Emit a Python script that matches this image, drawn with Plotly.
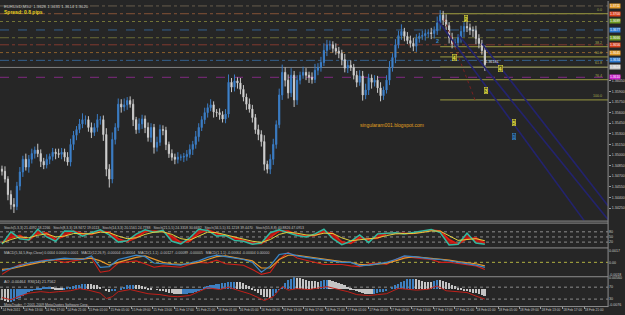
import plotly.graph_objects as go

W, H = 625, 315
BG = '#262626'
FONT = 'Liberation Sans'

# ---------------- price data (EURUSD M30), pips above BASE ----------------
BASE = 1.3400
PIP = 0.0001
open_first = 80
close_pips = [77,66,44,30,27,56,76,94,83,94, 102,107,102,91,86,94,98,104,102,101,
              104,97,90,115,128,136,144,150,150,139, 132,139,150,150,129,80,66,122,139,172,
              168,171,177,172,150,136,144,151,139,125, 139,111,118,136,135,115,102,97,94,97,
              97,98,101,108,115,126,139,150,160,167, 171,161,160,157,151,158,203,196,205,202,
              193,182,172,165,153,136,129,119,87,80, 94,115,143,185,217,206,188,213,178,206,
              213,217,213,210,207,220,224,231,248,256, 256,251,247,244,235,223,227,224,213,203,
              212,185,192,209,203,206,195,184,192,206, 224,238,256,269,275,268,262,258,254,265,
              268,269,272,273,272,276,287,298,291,283, 266,258,259,266,275,282,280,277,276,265,
              258,248,228]
wick_up = [5,7,4,6,9,6,7,5,8,6, 7,5,9,6,5,7,4,6,5,7, 6,5,7,8,6,5,7,9,6,5, 7,6,8,5,6,9,7,10,6,8,
           7,9,5,6,7,4,8,6,5,7, 6,5,8,7,6,5,4,6,5,7, 4,5,6,7,5,8,6,5,7,6, 8,5,4,6,5,7,11,6,9,5,
           7,6,5,8,6,5,7,6,9,5, 7,8,6,9,11,7,8,10,6,7, 5,8,6,5,7,9,6,8,10,7, 6,5,7,6,5,8,6,7,5,6,
           8,7,9,6,5,7,6,8,5,7, 9,6,8,7,10,5,6,7,8,6, 5,7,6,5,7,6,9,7,6,8, 5,7,6,5,8,6,7,6,5,7,
           6,5,7]
wick_dn = [6,5,8,7,9,5,6,7,5,8, 6,7,5,8,6,5,7,6,8,5, 7,6,5,6,8,7,5,6,7,6, 8,5,6,7,9,10,12,6,7,5,
           8,6,7,5,9,6,5,7,8,6, 7,9,6,5,7,8,6,5,7,6, 5,7,6,5,8,6,7,5,6,7, 5,8,6,7,5,6,5,7,6,8,
           7,6,8,5,7,6,8,7,9,6, 7,8,6,5,7,9,8,6,10,7, 6,5,7,8,6,5,7,6,5,8, 7,6,5,7,8,6,7,5,6,7,
           5,8,6,7,9,6,7,8,6,5, 7,6,8,5,6,7,5,6,7,8, 6,5,7,6,8,7,6,9,7,6, 8,7,6,5,7,8,6,7,9,8,
           7,6,9]
assert len(close_pips) == len(wick_up) == len(wick_dn)

price_ticks = [1.3605, 1.3590, 1.3575, 1.3560, 1.3545, 1.3530, 1.3515, 1.3500, 1.3485,
               1.3470, 1.3455, 1.3440, 1.3425]

# pivot / level lines (price)
level_prices = [1.3711, 1.3700, 1.3689, 1.3677, 1.3666, 1.3656, 1.3645, 1.3634, 1.3624, 1.3610]
level_colors = ['#6e6250', '#8e5838', '#7e7e3a', '#36689a', '#727238', '#8a3c30', '#96662e', '#36689a', '#8c8c8c', '#8a2a8a']
level_dash = ['dashdot', 'dashdot', 'dot', 'dash', 'dashdot', 'dashdot', 'dot', 'dashdot', 'solid', 'dash']
level_box = ['#e09a2a', '#d8401c', '#6e9a22', '#2a78d0', '#6e9a22', '#d8401c', '#e09a2a', '#2a78d0', '#c8c8c8', '#cc22cc']

# fibonacci retracement
fib_high = 1.3700
fib_low = 1.3578
fib_start_bar = 147
fib_ratios = [0.0, 0.382, 0.5, 0.618, 0.764, 1.0]
fib_text = ['0.0', '38.2', '50.0', '61.8', '76.4', '100.0']

# channel lines (bar, price)
ch_bars = [[146.3, 195.3], [153.3, 203.3], [161.0, 203.3]]
ch_prices = [[1.3690, 1.34072], [1.3669, 1.34086], [1.36578, 1.34282]]
red_diag_bars = [148.3, 158.7]
red_diag_prices = [1.36928, 1.3578]

# ---------------- stochastic panel ----------------
stoch_bars = list(range(0, 163, 3))
stoch_main = [8,80,40,33,95,50,25,85,83,55, 75,92,62,20,28,67,92,78,88,25, 10,45,95,88,55,58,30,25,8,15,
              75,92,75,58,50,68,95,40,5,25, 62,17,68,70,75,67,75,86,94,75, 3,8,72,15,8]
stoch_sig = [20,45,60,30,70,75,35,55,85,70, 65,85,78,40,22,45,80,85,82,55, 18,25,70,92,72,55,45,28,15,10,
             45,85,85,65,55,58,82,70,22,12, 45,38,42,70,72,72,70,80,90,85, 35,8,40,45,15]
stoch_slow = [15,35,50,45,60,68,50,55,70,70, 68,78,75,55,40,45,65,78,80,65, 40,32,55,78,75,62,50,38,25,18,
              35,65,78,72,62,60,72,70,45,28, 35,38,45,58,68,70,70,76,85,84, 58,30,35,40,28]

# ---------------- MACD panel (values x1e-4) ----------------
macd_bars = list(range(0, 163, 3))
macd_main = [-12,-8,-4,-1,1,3,5,6,5,4, 9,-7,-6,4,7,10,8,-1,-2,-3, -4,-1,2,7,10,8,6,4,0,-14,
             -5,11,13,9,7,5,4,2,0,0, -5,-4,-2,0,4,9,8,6,5,4, 2,0,-1,-4,-7]
macd_signal = [-10,-9,-6,-3,0,2,4,5,5,5, 6,2,-4,0,4,7,9,4,0,-2, -3,-2,0,4,8,9,7,5,2,-8,
               -8,4,10,10,8,6,5,3,1,0, -3,-4,-3,-1,2,6,8,7,6,5, 3,1,0,-2,-5]
macd_fast = [-17,-9,-3,-2,1,4,3,0,2,4, 6,-14,-12,-1,1,2,-2,-7,-5,-6, -7,-3,0,-1,3,-2,-3,-4,-10,-17,
             -14,4,14,6,3,0,-3,-3,-3,-5, -6,-2,-1,-3,4,8,6,5,4,0, 0,-2,-3,-5,-10]

# ---------------- AO (x1e-4, one per bar) + RSI ----------------
ao_vals = [-50,-56,-61,-60,-58,-49,-40,-31,-22,-15, -8,-2,3,7,10,12,13,10,8,7,
           6,8,10,13,16,19,22,24,26,25, 24,21,19,10,0,-7,-14,-10,-6,0,
           6,13,19,21,22,21,19,15,11,7, 3,0,-2,-6,-10,-13,-16,-19,-21,-23,
           -24,-23,-22,-19,-16,-12,-8,1,10,16, 21,23,24,27,30,33,35,37,38,37,
           35,29,22,14,6,-5,-16,-26,-35,-38, -40,-30,-19,-3,13,29,45,52,58,56,
           53,49,45,42,40,39,38,42,45,46, 46,42,38,33,27,20,13,5,-2,-8,
           -13,-17,-21,-22,-22,-21,-19,-15,-11,-5, 0,10,19,27,35,42,48,49,50,48,
           46,42,38,38,38,42,45,44,43,38, 32,23,14,8,3,-4,-10,-13,-16,-19,
           -22,-27,-32]
assert len(ao_vals) == len(close_pips)
rsi_bars = [0,3,6,9,13,16,19,23,26,29,33,35,37,39,43,46,49,53,56,59,63,66,69,73,76,79,83,86,88,91,
            94,96,99,103,106,109,113,116,119,123,126,129,133,136,139,143,146,149,153,156,159,162]
rsi_vals = [35,28,40,50,55,52,55,58,65,60,50,32,38,55,62,55,48,45,40,38,42,55,68,62,70,60,48,35,25,38,
            72,60,65,62,66,72,62,55,45,42,45,48,66,62,60,63,74,58,55,52,40,30]

# ---------------- time axis ----------------
time_tick_bars = [0, 7.2, 14.5, 21.7, 28.9, 36.2, 43.4, 50.6, 57.9, 65.1, 72.3, 79.6, 86.8, 94.0,
                  101.3, 108.5, 115.7, 123.0, 130.2, 137.4, 144.7, 151.9, 159.1, 166.4, 173.6, 180.8, 188.1, 195.3]
time_tick_text = ["14 Feb 2011", "14 Feb 13:00", "14 Feb 17:00", "14 Feb 21:00", "15 Feb 01:00", "15 Feb 05:00",
                  "15 Feb 09:00", "15 Feb 13:00", "15 Feb 17:00", "15 Feb 21:00", "16 Feb 01:00", "16 Feb 05:00",
                  "16 Feb 09:00", "16 Feb 13:00", "16 Feb 17:00", "16 Feb 21:00", "17 Feb 01:00", "17 Feb 05:00",
                  "17 Feb 09:00", "17 Feb 13:00", "17 Feb 17:00", "17 Feb 21:00", "18 Feb 01:00", "18 Feb 05:00",
                  "18 Feb 09:00", "18 Feb 13:00", "18 Feb 17:00", "18 Feb 21:00"]

# ======================================================================
bars = list(range(len(close_pips)))
open_pips = [open_first] + close_pips[:-1]
o = [BASE + v * PIP for v in open_pips]
c = [BASE + v * PIP for v in close_pips]
h = [BASE + (max(a, b) + u) * PIP for a, b, u in zip(open_pips, close_pips, wick_up)]
l = [BASE + (min(a, b) - d) * PIP for a, b, d in zip(open_pips, close_pips, wick_dn)]

XR = [-0.667, 203.33]
XD = 612 / W


def pdom(top_px, bot_px):
    return [1 - bot_px / H, 1 - top_px / H]


fig = go.Figure()

for bx, py in zip(ch_bars, ch_prices):
    fig.add_trace(go.Scatter(x=bx, y=py, mode='lines', line=dict(color='#23236e', width=1.6),
                             hoverinfo='skip', showlegend=False))
fig.add_trace(go.Scatter(x=red_diag_bars, y=red_diag_prices, mode='lines',
                         line=dict(color='#7a2020', width=1, dash='dot'), hoverinfo='skip', showlegend=False))

fig.add_trace(go.Candlestick(
    x=bars, open=o, high=h, low=l, close=c,
    increasing=dict(line=dict(color='#3a7cc4', width=1), fillcolor='#4a8fd8'),
    decreasing=dict(line=dict(color='#c8c8c8', width=1), fillcolor='#f4f4f4'),
    whiskerwidth=0, showlegend=False, hoverinfo='skip'))

# stochastic
fig.add_trace(go.Scatter(x=stoch_bars, y=stoch_sig, yaxis='y2', mode='lines',
                         line=dict(color='#e01a10', width=1.5), hoverinfo='skip', showlegend=False))
fig.add_trace(go.Scatter(x=stoch_bars, y=stoch_main, yaxis='y2', mode='lines', fill='tonexty',
                         fillcolor='rgba(205,20,15,0.8)',
                         line=dict(color='#2fb8a0', width=1.5), hoverinfo='skip', showlegend=False))
fig.add_trace(go.Scatter(x=stoch_bars, y=stoch_slow, yaxis='y2', mode='lines',
                         line=dict(color='#e0d040', width=1), hoverinfo='skip', showlegend=False))

# MACD
fig.add_trace(go.Scatter(x=macd_bars, y=[v * PIP for v in macd_fast], yaxis='y3', mode='lines',
                         line=dict(color='#d0201a', width=1.1), hoverinfo='skip', showlegend=False))
fig.add_trace(go.Scatter(x=macd_bars, y=[v * PIP for v in macd_signal], yaxis='y3', mode='lines',
                         line=dict(color='#e8962a', width=1.2), hoverinfo='skip', showlegend=False))
fig.add_trace(go.Scatter(x=macd_bars, y=[v * PIP for v in macd_main], yaxis='y3', mode='lines',
                         line=dict(color='#3a86c8', width=1.2), hoverinfo='skip', showlegend=False))

# AO histogram
ao_colors = ['#a8a8a8'] + ['#3d7fc0' if b > a else '#c4c4c4' for a, b in zip(ao_vals[:-1], ao_vals[1:])]
fig.add_trace(go.Bar(x=bars, y=[v * PIP for v in ao_vals], yaxis='y4',
                     marker=dict(color=ao_colors, line=dict(width=0)),
                     width=0.6, hoverinfo='skip', showlegend=False))
fig.add_trace(go.Scatter(x=rsi_bars, y=rsi_vals, yaxis='y5', mode='lines',
                         line=dict(color='#c0201a', width=1), hoverinfo='skip', showlegend=False))

shapes = []
for p, col, ds in zip(level_prices, level_colors, level_dash):
    shapes.append(dict(type='line', xref='x', yref='y', x0=XR[0], x1=XR[1], y0=p, y1=p,
                       line=dict(color=col, width=0.9, dash=ds), layer='below'))
for r in fib_ratios:
    p = fib_high - (fib_high - fib_low) * r
    shapes.append(dict(type='line', xref='x', yref='y', x0=fib_start_bar, x1=XR[1], y0=p, y1=p,
                       line=dict(color='#82823a', width=1.2), layer='below'))
for v in [80, 50, 20]:
    shapes.append(dict(type='line', xref='x', yref='y2', x0=XR[0], x1=XR[1], y0=v, y1=v,
                       line=dict(color='#8c8c8c', width=1, dash='dot'), layer='below'))
shapes.append(dict(type='line', xref='x', yref='y3', x0=XR[0], x1=XR[1], y0=0, y1=0,
                   line=dict(color='#b0b040', width=1, dash='dot'), layer='below'))
for v in [70, 30]:
    shapes.append(dict(type='line', xref='x', yref='y5', x0=XR[0], x1=XR[1], y0=v, y1=v,
                       line=dict(color='#8c8c8c', width=1, dash='dot'), layer='below'))
for ypx in [221.5, 223.5, 248.5, 277.5, 307.5]:
    shapes.append(dict(type='line', xref='paper', yref='paper', x0=0, x1=XD, y0=1 - ypx / H, y1=1 - ypx / H,
                       line=dict(color='#8e8e8e', width=1)))
shapes.append(dict(type='line', xref='paper', yref='paper', x0=XD, x1=XD, y0=1 - 308 / H, y1=1,
                   line=dict(color='#8e8e8e', width=1)))

ann = []
small = dict(family=FONT, size=4.2, color='#c8c8c8')
ann.append(dict(xref='paper', yref='paper', x=0.004, y=1 - 1 / H, xanchor='left', yanchor='top',
                text='EURUSD,M30  1.3628 1.3631 1.3614 1.3620', showarrow=False, font=small))
ann.append(dict(xref='paper', yref='paper', x=0.004, y=1 - 6 / H, xanchor='left', yanchor='top',
                text='<b>Spread: 0.8 pips</b>', showarrow=False, font=dict(family=FONT, size=5, color='#e8d020')))
for p, bc in zip(level_prices, level_box):
    ann.append(dict(xref='paper', yref='y', x=XD + 0.0015, y=p, xanchor='left', yanchor='middle',
                    text=f'{p:.4f}', showarrow=False, bgcolor=bc, borderpad=0,
                    font=dict(family=FONT, size=3.3, color='#ffffff')))
for r, t in zip(fib_ratios, fib_text):
    p = fib_high - (fib_high - fib_low) * r
    ann.append(dict(xref='x', yref='y', x=XR[1] - 1.5, y=p, xanchor='right', yanchor='bottom',
                    text=t, showarrow=False, font=dict(family=FONT, size=3.6, color='#a8a850')))
wave = [(146, 1.3661, '2', '#3a86c8', None), (155.7, 1.3693, '2', '#e8e040', '#5a5a20'),
        (151.7, 1.3638, '4', '#e8e040', '#5a5a20'), (167.3, 1.3623, '4', '#e8e040', '#5a5a20'),
        (162.3, 1.3592, '3', '#e8e040', '#5a5a20'), (171.7, 1.3546, '5', '#e8e040', '#5a5a20'),
        (171.7, 1.3526, '1', '#3a86c8', '#1e3a5a')]
for bx, py, t, col, bg in wave:
    d = dict(xref='x', yref='y', x=bx, y=py, text=f'<b>{t}</b>', showarrow=False,
             font=dict(family=FONT, size=5.5, color=col))
    if bg:
        d.update(bgcolor=bg, bordercolor=col, borderwidth=0.5, borderpad=0)
    ann.append(d)
ann.append(dict(xref='x', yref='y', x=164.3, y=1.3631, text='1.36181', showarrow=False,
                font=dict(family=FONT, size=3.8, color='#e0e0e0')))
ann.append(dict(xref='x', yref='y', x=131, y=1.3542, text='singularam001.blogspot.com', showarrow=False,
                font=dict(family=FONT, size=5, color='#e0a020')))
hdr = dict(family=FONT, size=3.5, color='#c0c0c0')
ann.append(dict(xref='paper', yref='paper', x=0.004, y=1 - 224 / H, xanchor='left', yanchor='top', showarrow=False,
                text='Stoch(5,3,3) 21.4392 18.2266   Stoch(8,3,3) 18.9472 19.0113   Stoch(14,3,3) 20.1561 24.7788   Stoch(21,5,5) 24.3318 30.6692   Stoch(34,5,5) 31.1218 39.4470   Stoch(55,8,8) 40.8826 47.0913',
                font=hdr))
ann.append(dict(xref='paper', yref='paper', x=0.004, y=1 - 250 / H, xanchor='left', yanchor='top', showarrow=False,
                text='MACD(5,34,5,Exp,Close) 0.0004 0.0004 0.0001   MACD(12,26,9) -0.00004 -0.00004   MACD(1,1,1) -0.00127 -0.00089 -0.00005   MACD(1,1,1) -0.00064 -0.00004 0.00000',
                font=hdr))
ann.append(dict(xref='paper', yref='paper', x=0.004, y=1 - 279 / H, xanchor='left', yanchor='top', showarrow=False,
                text='AO -0.00464  RSI(14) 21.7562', font=dict(family=FONT, size=3.8, color='#c8c8c8')))
ann.append(dict(xref='paper', yref='paper', x=0.004, y=1 - 301.5 / H, xanchor='left', yanchor='top', showarrow=False,
                text='MetaTrader, © 2001-2009 MetaQuotes Software Corp.', font=hdr))

axfont = dict(family=FONT, size=3.6, color='#c8c8c8')
fig.update_layout(
    width=W, height=H, margin=dict(l=0, r=0, t=0, b=0),
    paper_bgcolor=BG, plot_bgcolor=BG, showlegend=False, bargap=0, boxgap=0.45,
    shapes=shapes, annotations=ann,
    xaxis=dict(domain=[0, XD], range=XR, anchor='y4', showgrid=False, zeroline=False,
               rangeslider=dict(visible=False), tickvals=time_tick_bars, ticktext=time_tick_text,
               ticks='outside', ticklen=2, tickcolor='#9a9a9a', tickfont=dict(family=FONT, size=3.2, color='#c8c8c8'),
               tickangle=0, ticklabelposition='outside right', showline=False),
    yaxis=dict(domain=pdom(0, 221), range=[1.34072, 1.3718], side='right', anchor='x', showgrid=False,
               zeroline=False, tickvals=price_ticks, tickformat='.5f', tickfont=axfont,
               ticks='outside', ticklen=2, tickcolor='#9a9a9a'),
    yaxis2=dict(domain=pdom(224, 248), range=[-11, 128], side='right', anchor='x', showgrid=False,
                zeroline=False, tickvals=[80, 50, 20], tickfont=axfont),
    yaxis3=dict(domain=pdom(249, 277), range=[-0.00196, 0.00196], side='right', anchor='x', showgrid=False,
                zeroline=False, tickvals=[0.0017, 0, -0.0018], ticktext=['0.0017', '0.00', '-0.0018'], tickfont=axfont),
    yaxis4=dict(domain=pdom(278, 307), range=[-0.0080, 0.0060], side='right', anchor='x', showgrid=False,
                zeroline=False, tickvals=[0.0056, -0.0076], ticktext=['0.00560', '-0.0076'], tickfont=axfont),
    yaxis5=dict(domain=pdom(278, 307), range=[6.7, 103.3], overlaying='y4', side='right', anchor='x',
                showgrid=False, zeroline=False, tickvals=[70, 30], tickfont=axfont),
)

fig.write_html('out.html')
